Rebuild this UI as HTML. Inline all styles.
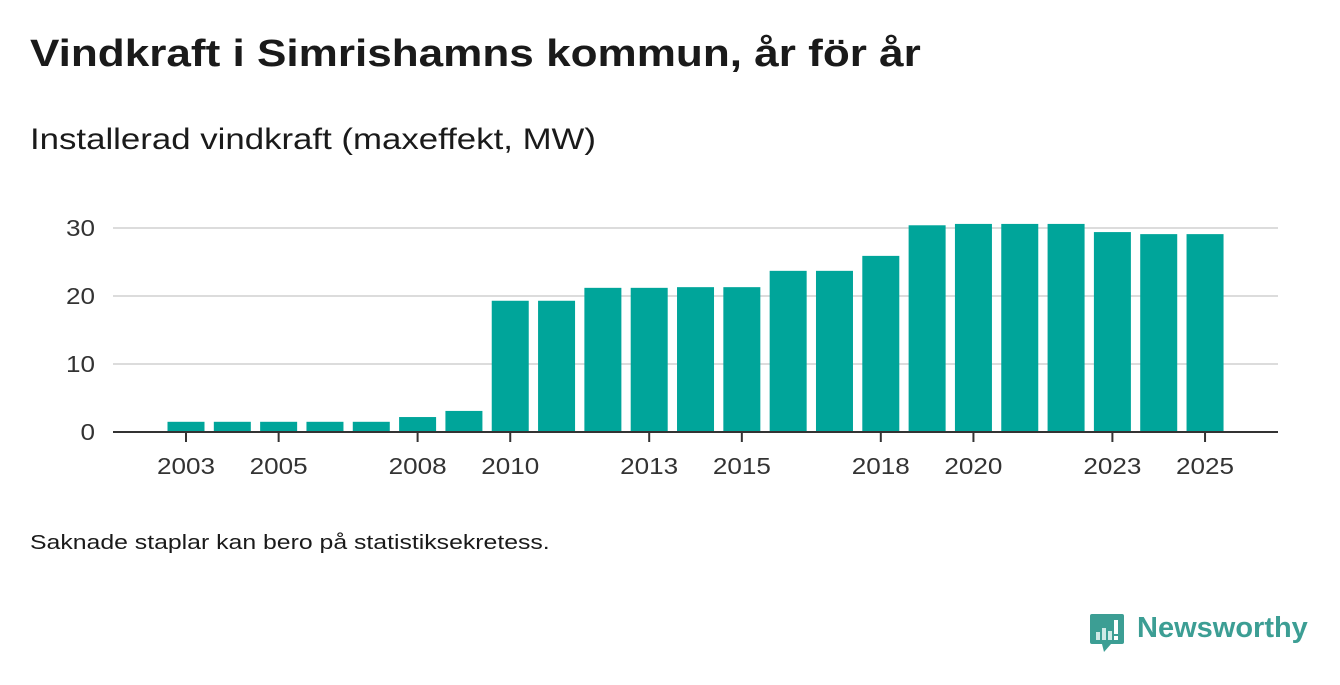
<!DOCTYPE html>
<html><head><meta charset="utf-8"><style>
body{margin:0;width:1340px;height:685px;background:#fff;font-family:"Liberation Sans",sans-serif;position:relative;overflow:hidden;color:#1a1a1a}
.t{position:absolute;white-space:nowrap;transform-origin:0 0}
</style></head><body>
<div class="t" style="left:30px;top:33px;font-size:38px;font-weight:bold;transform:scaleX(1.16)">Vindkraft i Simrishamns kommun, år för år</div>
<div class="t" style="left:30px;top:123px;font-size:30px;transform:scaleX(1.16)">Installerad vindkraft (maxeffekt, MW)</div>
<svg id="c" style="position:absolute;left:0;top:0" width="1340" height="520"></svg>
<div class="t" style="left:30px;top:532px;font-size:20px;transform:scaleX(1.24)">Saknade staplar kan bero på statistiksekretess.</div>
<div style="position:absolute;left:1089px;top:612px;height:45px">
<svg width="38" height="46" style="position:absolute;left:0;top:0"><path d="M3 2h30a2 2 0 0 1 2 2v26a2 2 0 0 1-2 2H22l-7 8-2-8H3a2 2 0 0 1-2-2V4a2 2 0 0 1 2-2z" fill="#3c9e94"/><rect x="7" y="20" width="4" height="8" fill="#cfe9e6"/><rect x="13" y="16" width="4" height="12" fill="#cfe9e6"/><rect x="19" y="19" width="4" height="9" fill="#cfe9e6"/><rect x="25" y="8" width="4" height="14" fill="#fff"/><rect x="25" y="24" width="4" height="4" fill="#fff"/></svg>
<div class="t" style="left:48px;top:0px;font-size:29px;font-weight:bold;color:#3c9e94">Newsworthy</div>
</div>
<script>
const years=[2003,2004,2005,2006,2007,2008,2009,2010,2011,2012,2013,2014,2015,2016,2017,2018,2019,2020,2021,2022,2023,2024,2025];
const values=[1.5,1.5,1.5,1.5,1.5,2.2,3.1,19.3,19.3,21.2,21.2,21.3,21.3,23.7,23.7,25.9,30.4,30.6,30.6,30.6,29.4,29.1,29.1];
const yTicks=[0,10,20,30];
const xLabels=[2003,2005,2008,2010,2013,2015,2018,2020,2023,2025];
const svg=document.getElementById('c');const NS='http://www.w3.org/2000/svg';
const x=y=>186+(y-2003)*46.32;const yS=v=>432-v*6.8;
function mk(t,a){const e=document.createElementNS(NS,t);for(const k in a)e.setAttribute(k,a[k]);svg.appendChild(e);return e;}
yTicks.forEach(v=>{if(v>0){const l=mk('line',{x1:113,x2:1278,y1:yS(v),y2:yS(v),stroke:'#dcdcdc','stroke-width':2});}
const t=mk('text',{x:95,y:yS(v)+8,'text-anchor':'end','font-size':23,fill:'#333',textLength:String(v).length*14.5,lengthAdjust:'spacingAndGlyphs'});t.textContent=v;});
years.forEach((yr,i)=>{const r=mk('rect',{x:x(yr)-18.5,y:yS(values[i]),width:37,height:values[i]*6.8,fill:'#00a59a'});});
const ax=mk('line',{x1:113,x2:1278,y1:432,y2:432,stroke:'#333','stroke-width':2});
xLabels.forEach(yr=>{const tk=mk('line',{x1:x(yr),x2:x(yr),y1:432,y2:442,stroke:'#333','stroke-width':2});
const t=mk('text',{x:x(yr),y:474,'text-anchor':'middle','font-size':23,fill:'#333',textLength:58,lengthAdjust:'spacingAndGlyphs'});t.textContent=yr;});
</script>
</body></html>
